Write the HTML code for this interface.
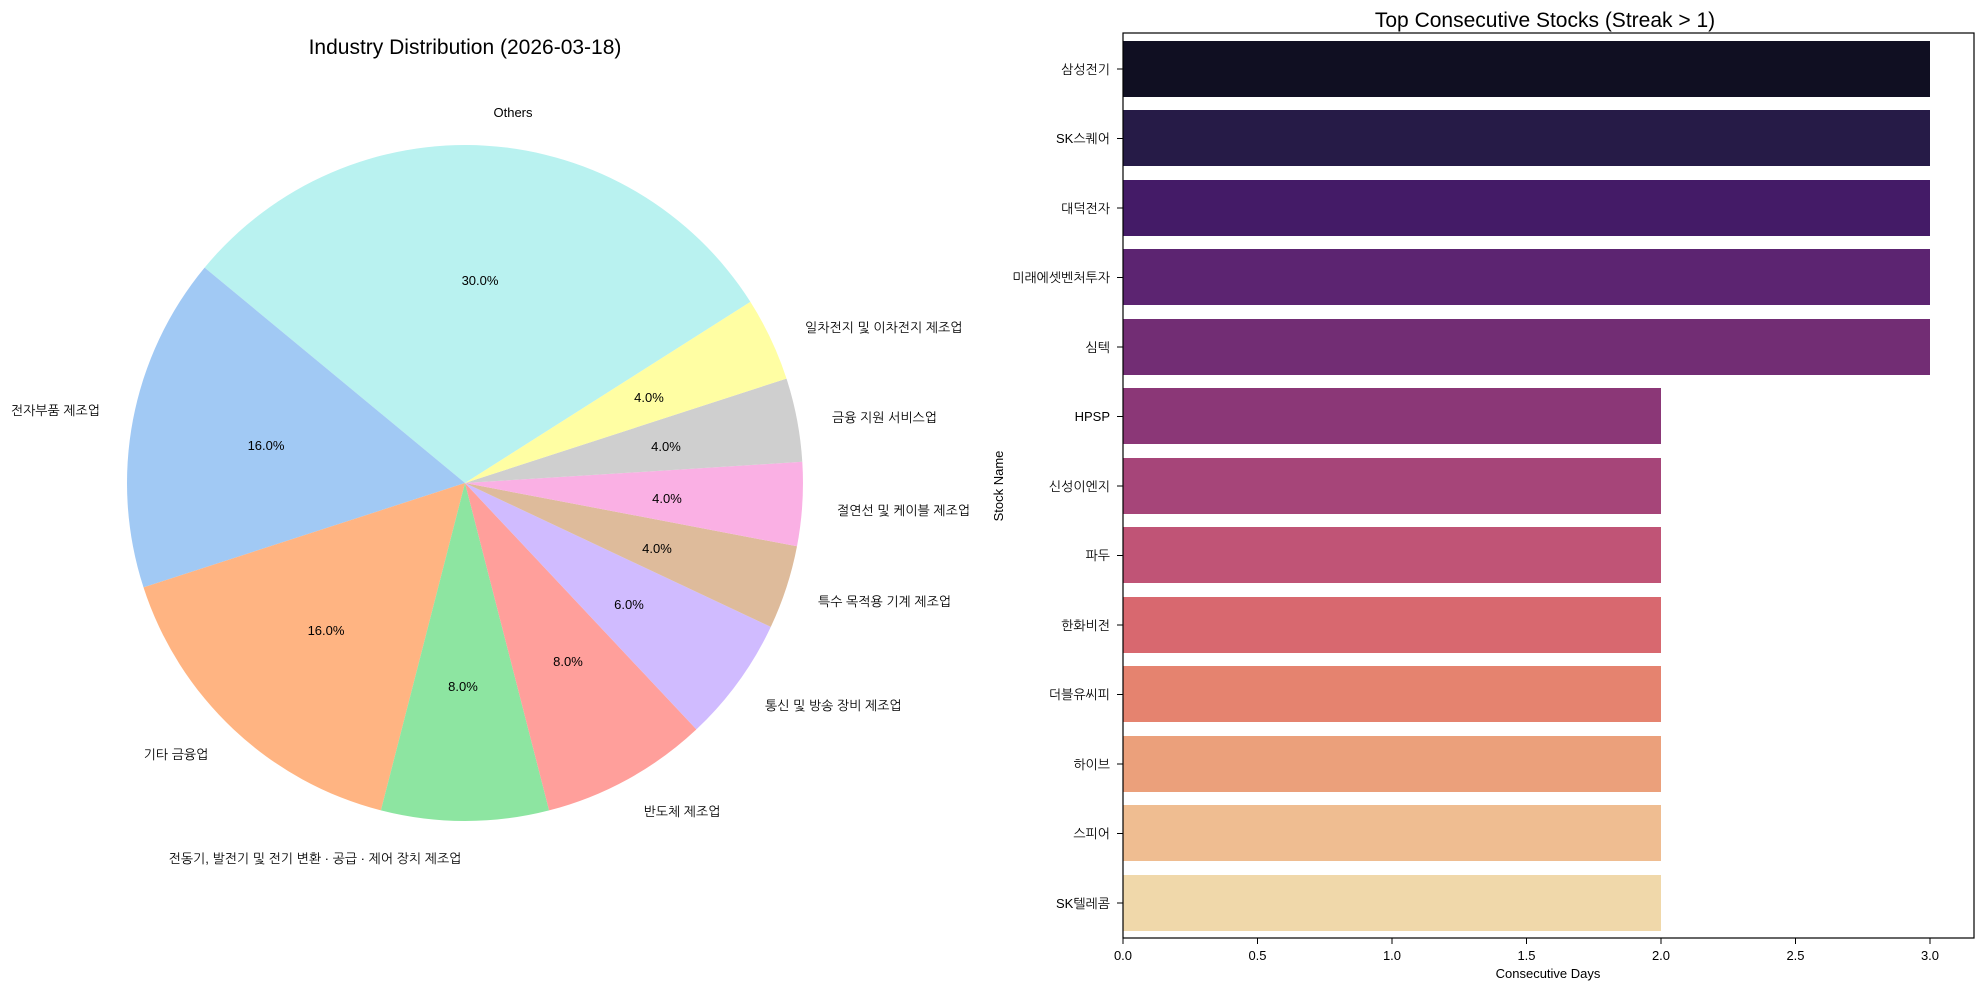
<!DOCTYPE html><html><head><meta charset="utf-8"><style>body{margin:0;background:#fff}svg{display:block}text{font-family:"Liberation Sans","NanumGothic","Noto Sans CJK KR",sans-serif;fill:#000}</style></head><body>
<svg width="1980" height="989" viewBox="0 0 1980 989" xmlns="http://www.w3.org/2000/svg">
<rect width="1980" height="989" fill="#fff"/>
<text x="465" y="54" font-size="21" text-anchor="middle">Industry Distribution (2026-03-18)</text>
<g>
<path d="M465,483 L750.4,301.9 A338,338 0 0 0 204.6,267.6Z" fill="#b9f2f0"/>
<path d="M465,483 L204.6,267.6 A338,338 0 0 0 143.5,587.4Z" fill="#a1c9f4"/>
<path d="M465,483 L143.5,587.4 A338,338 0 0 0 380.9,810.4Z" fill="#ffb482"/>
<path d="M465,483 L380.9,810.4 A338,338 0 0 0 549.1,810.4Z" fill="#8de5a1"/>
<path d="M465,483 L549.1,810.4 A338,338 0 0 0 696.4,729.4Z" fill="#ff9f9b"/>
<path d="M465,483 L696.4,729.4 A338,338 0 0 0 770.8,626.9Z" fill="#d0bbff"/>
<path d="M465,483 L770.8,626.9 A338,338 0 0 0 797.0,546.3Z" fill="#debb9b"/>
<path d="M465,483 L797.0,546.3 A338,338 0 0 0 802.3,461.8Z" fill="#fab0e4"/>
<path d="M465,483 L802.3,461.8 A338,338 0 0 0 786.5,378.6Z" fill="#cfcfcf"/>
<path d="M465,483 L786.5,378.6 A338,338 0 0 0 750.4,301.9Z" fill="#fffea3"/>
</g>
<g font-size="13">
<text x="513" y="117" text-anchor="middle">Others</text>
<text x="480" y="285" text-anchor="middle">30.0%</text>
<text x="100" y="415" text-anchor="end">전자부품 제조업</text>
<text x="266" y="450" text-anchor="middle">16.0%</text>
<text x="176" y="759" text-anchor="middle">기타 금융업</text>
<text x="326" y="635" text-anchor="middle">16.0%</text>
<text x="315" y="863" text-anchor="middle">전동기, 발전기 및 전기 변환 · 공급 · 제어 장치 제조업</text>
<text x="463" y="691" text-anchor="middle">8.0%</text>
<text x="568" y="666" text-anchor="middle">8.0%</text>
<text x="682" y="816" text-anchor="middle">반도체 제조업</text>
<text x="629" y="609" text-anchor="middle">6.0%</text>
<text x="765" y="710">통신 및 방송 장비 제조업</text>
<text x="657" y="553" text-anchor="middle">4.0%</text>
<text x="818" y="606">특수 목적용 기계 제조업</text>
<text x="667" y="503" text-anchor="middle">4.0%</text>
<text x="837" y="515">절연선 및 케이블 제조업</text>
<text x="666" y="451" text-anchor="middle">4.0%</text>
<text x="832" y="422">금융 지원 서비스업</text>
<text x="649" y="402" text-anchor="middle">4.0%</text>
<text x="805" y="332">일차전지 및 이차전지 제조업</text>
</g>
<text x="1545" y="27" font-size="21" text-anchor="middle">Top Consecutive Stocks (Streak &gt; 1)</text>
<g>
<rect x="1123" y="41" width="807" height="56" fill="#100f22"/>
<rect x="1123" y="110" width="807" height="56" fill="#261b47"/>
<rect x="1123" y="180" width="807" height="56" fill="#441b67"/>
<rect x="1123" y="249" width="807" height="56" fill="#5c2471"/>
<rect x="1123" y="319" width="807" height="56" fill="#722d74"/>
<rect x="1123" y="388" width="538" height="56" fill="#8b3777"/>
<rect x="1123" y="458" width="538" height="56" fill="#a64579"/>
<rect x="1123" y="527" width="538" height="56" fill="#c05476"/>
<rect x="1123" y="597" width="538" height="56" fill="#d8686f"/>
<rect x="1123" y="666" width="538" height="56" fill="#e5836f"/>
<rect x="1123" y="736" width="538" height="56" fill="#eba07b"/>
<rect x="1123" y="805" width="538" height="56" fill="#efbd91"/>
<rect x="1123" y="875" width="538" height="56" fill="#f0d8aa"/>
</g>
<rect x="1123" y="33" width="851" height="905" fill="none" stroke="#000" stroke-width="1.2"/>
<g font-size="13" text-anchor="end">
<text x="1110" y="74">삼성전기</text>
<text x="1110" y="143">SK스퀘어</text>
<text x="1110" y="213">대덕전자</text>
<text x="1110" y="282">미래에셋벤처투자</text>
<text x="1110" y="352">심텍</text>
<text x="1110" y="421">HPSP</text>
<text x="1110" y="491">신성이엔지</text>
<text x="1110" y="560">파두</text>
<text x="1110" y="630">한화비전</text>
<text x="1110" y="699">더블유씨피</text>
<text x="1110" y="769">하이브</text>
<text x="1110" y="838">스피어</text>
<text x="1110" y="908">SK텔레콤</text>
</g>
<g stroke="#000" stroke-width="1">
<path d="M1117,69H1123M1117,138.5H1123M1117,208H1123M1117,277.5H1123M1117,347H1123M1117,416.5H1123M1117,486H1123M1117,555.5H1123M1117,625H1123M1117,694.5H1123M1117,764H1123M1117,833.5H1123M1117,903H1123"/>
<path d="M1123,938V944M1257.5,938V944M1392,938V944M1526.5,938V944M1661,938V944M1795.5,938V944M1930,938V944"/>
</g>
<g font-size="13" text-anchor="middle">
<text x="1123" y="960">0.0</text><text x="1257.5" y="960">0.5</text><text x="1392" y="960">1.0</text><text x="1526.5" y="960">1.5</text><text x="1661" y="960">2.0</text><text x="1795.5" y="960">2.5</text><text x="1930" y="960">3.0</text>
<text x="1548" y="978">Consecutive Days</text>
</g>
<text transform="translate(1003,486) rotate(-90)" font-size="13" text-anchor="middle">Stock Name</text>
</svg></body></html>
